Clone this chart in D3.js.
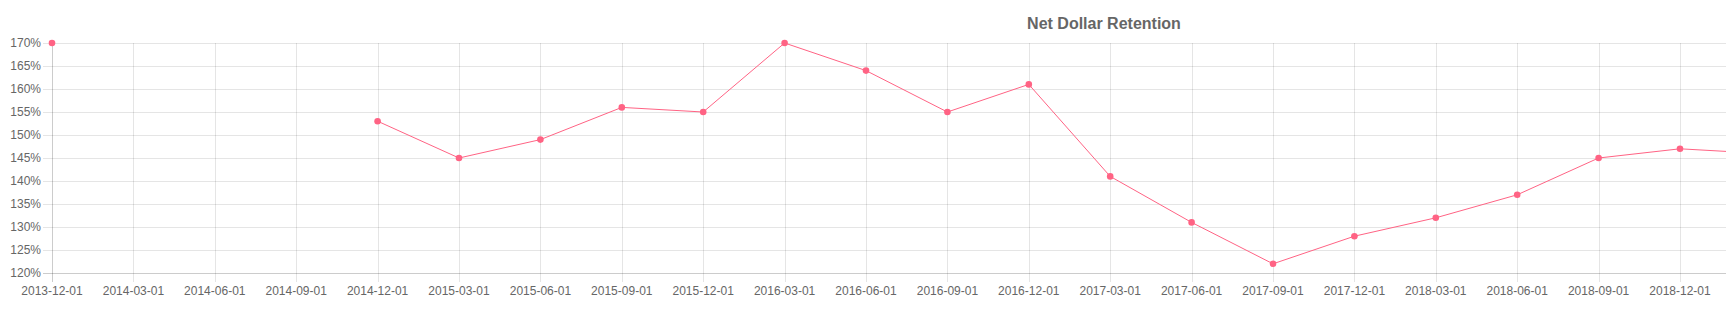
<!DOCTYPE html>
<html>
<head>
<meta charset="utf-8">
<script src="https://cdn.jsdelivr.net/npm/d3@7"></script>
<style>
  html, body { margin: 0; padding: 0; background: #fff; overflow: hidden; }
  svg { display: block; font-family: "Liberation Sans", Arial, Helvetica, sans-serif; }
</style>
</head>
<body>
<svg id="chart" width="1726" height="310"></svg>
<script>
const title = "Net Dollar Retention";
const dates = ["2013-12-01","2014-03-01","2014-06-01","2014-09-01","2014-12-01","2015-03-01","2015-06-01","2015-09-01","2015-12-01","2016-03-01","2016-06-01","2016-09-01","2016-12-01","2017-03-01","2017-06-01","2017-09-01","2017-12-01","2018-03-01","2018-06-01","2018-09-01","2018-12-01","2019-03-01"];
const retention = [170, null, null, null, 153, 145, 149, 156, 155, 170, 164, 155, 161, 141, 131, 122, 128, 132, 137, 145, 147, 146];
const yTicks = [120, 125, 130, 135, 140, 145, 150, 155, 160, 165, 170];

const W = 1726;
const svg = d3.select("#chart");
const padLeft = 52, padTop = 43, padBottom = 273;
const step = 81.4;
const x = d3.scalePoint().domain(dates).range([padLeft, padLeft + step * (dates.length - 1)]);
const y = d3.scaleLinear().domain([120, 170]).range([padBottom, padTop]);

const gridColor = "rgba(0,0,0,0.1)";
const axisColor = "rgba(0,0,0,0.2)";
const textColor = "#666";

// horizontal grid
svg.append("g").selectAll("line").data(yTicks).join("line")
  .attr("x1", padLeft - 9).attr("x2", W + 200)
  .attr("y1", d => Math.round(y(d)) + 0.5).attr("y2", d => Math.round(y(d)) + 0.5)
  .attr("stroke", d => d === 120 ? axisColor : gridColor).attr("stroke-width", 1);

// vertical grid
svg.append("g").selectAll("line").data(dates).join("line")
  .attr("x1", d => Math.round(x(d)) + 0.5).attr("x2", d => Math.round(x(d)) + 0.5)
  .attr("y1", padTop).attr("y2", padBottom + 9)
  .attr("stroke", (d, i) => i === 0 ? axisColor : gridColor).attr("stroke-width", 1);

// y labels
svg.append("g").selectAll("text").data(yTicks).join("text")
  .attr("x", padLeft - 11).attr("y", d => y(d)).attr("dy", "0.35em")
  .attr("text-anchor", "end").attr("font-size", 12).attr("fill", textColor)
  .text(d => d + "%");

// x labels (only those fully inside the visible window)
svg.append("g").selectAll("text").data(dates.filter(d => x(d) + 31 <= W)).join("text")
  .attr("x", d => x(d)).attr("y", 294.5)
  .attr("text-anchor", "middle").attr("font-size", 12).attr("fill", textColor)
  .text(d => d);

// title
svg.append("text").attr("x", 1104).attr("y", 29.3)
  .attr("text-anchor", "middle").attr("font-size", 16).attr("font-weight", "bold")
  .attr("fill", textColor).text(title);

const data = dates.map((d, i) => ({d, v: retention[i]}));
const line = d3.line().defined(p => p.v != null).x(p => x(p.d)).y(p => y(p.v));
svg.append("path").datum(data).attr("d", line)
  .attr("fill", "none").attr("stroke", "rgb(255,99,132)").attr("stroke-width", 1);

svg.append("g").selectAll("circle").data(data.filter(p => p.v != null)).join("circle")
  .attr("cx", p => x(p.d)).attr("cy", p => y(p.v)).attr("r", 3.3)
  .attr("fill", "rgb(255,99,132)");
</script>
</body>
</html>
